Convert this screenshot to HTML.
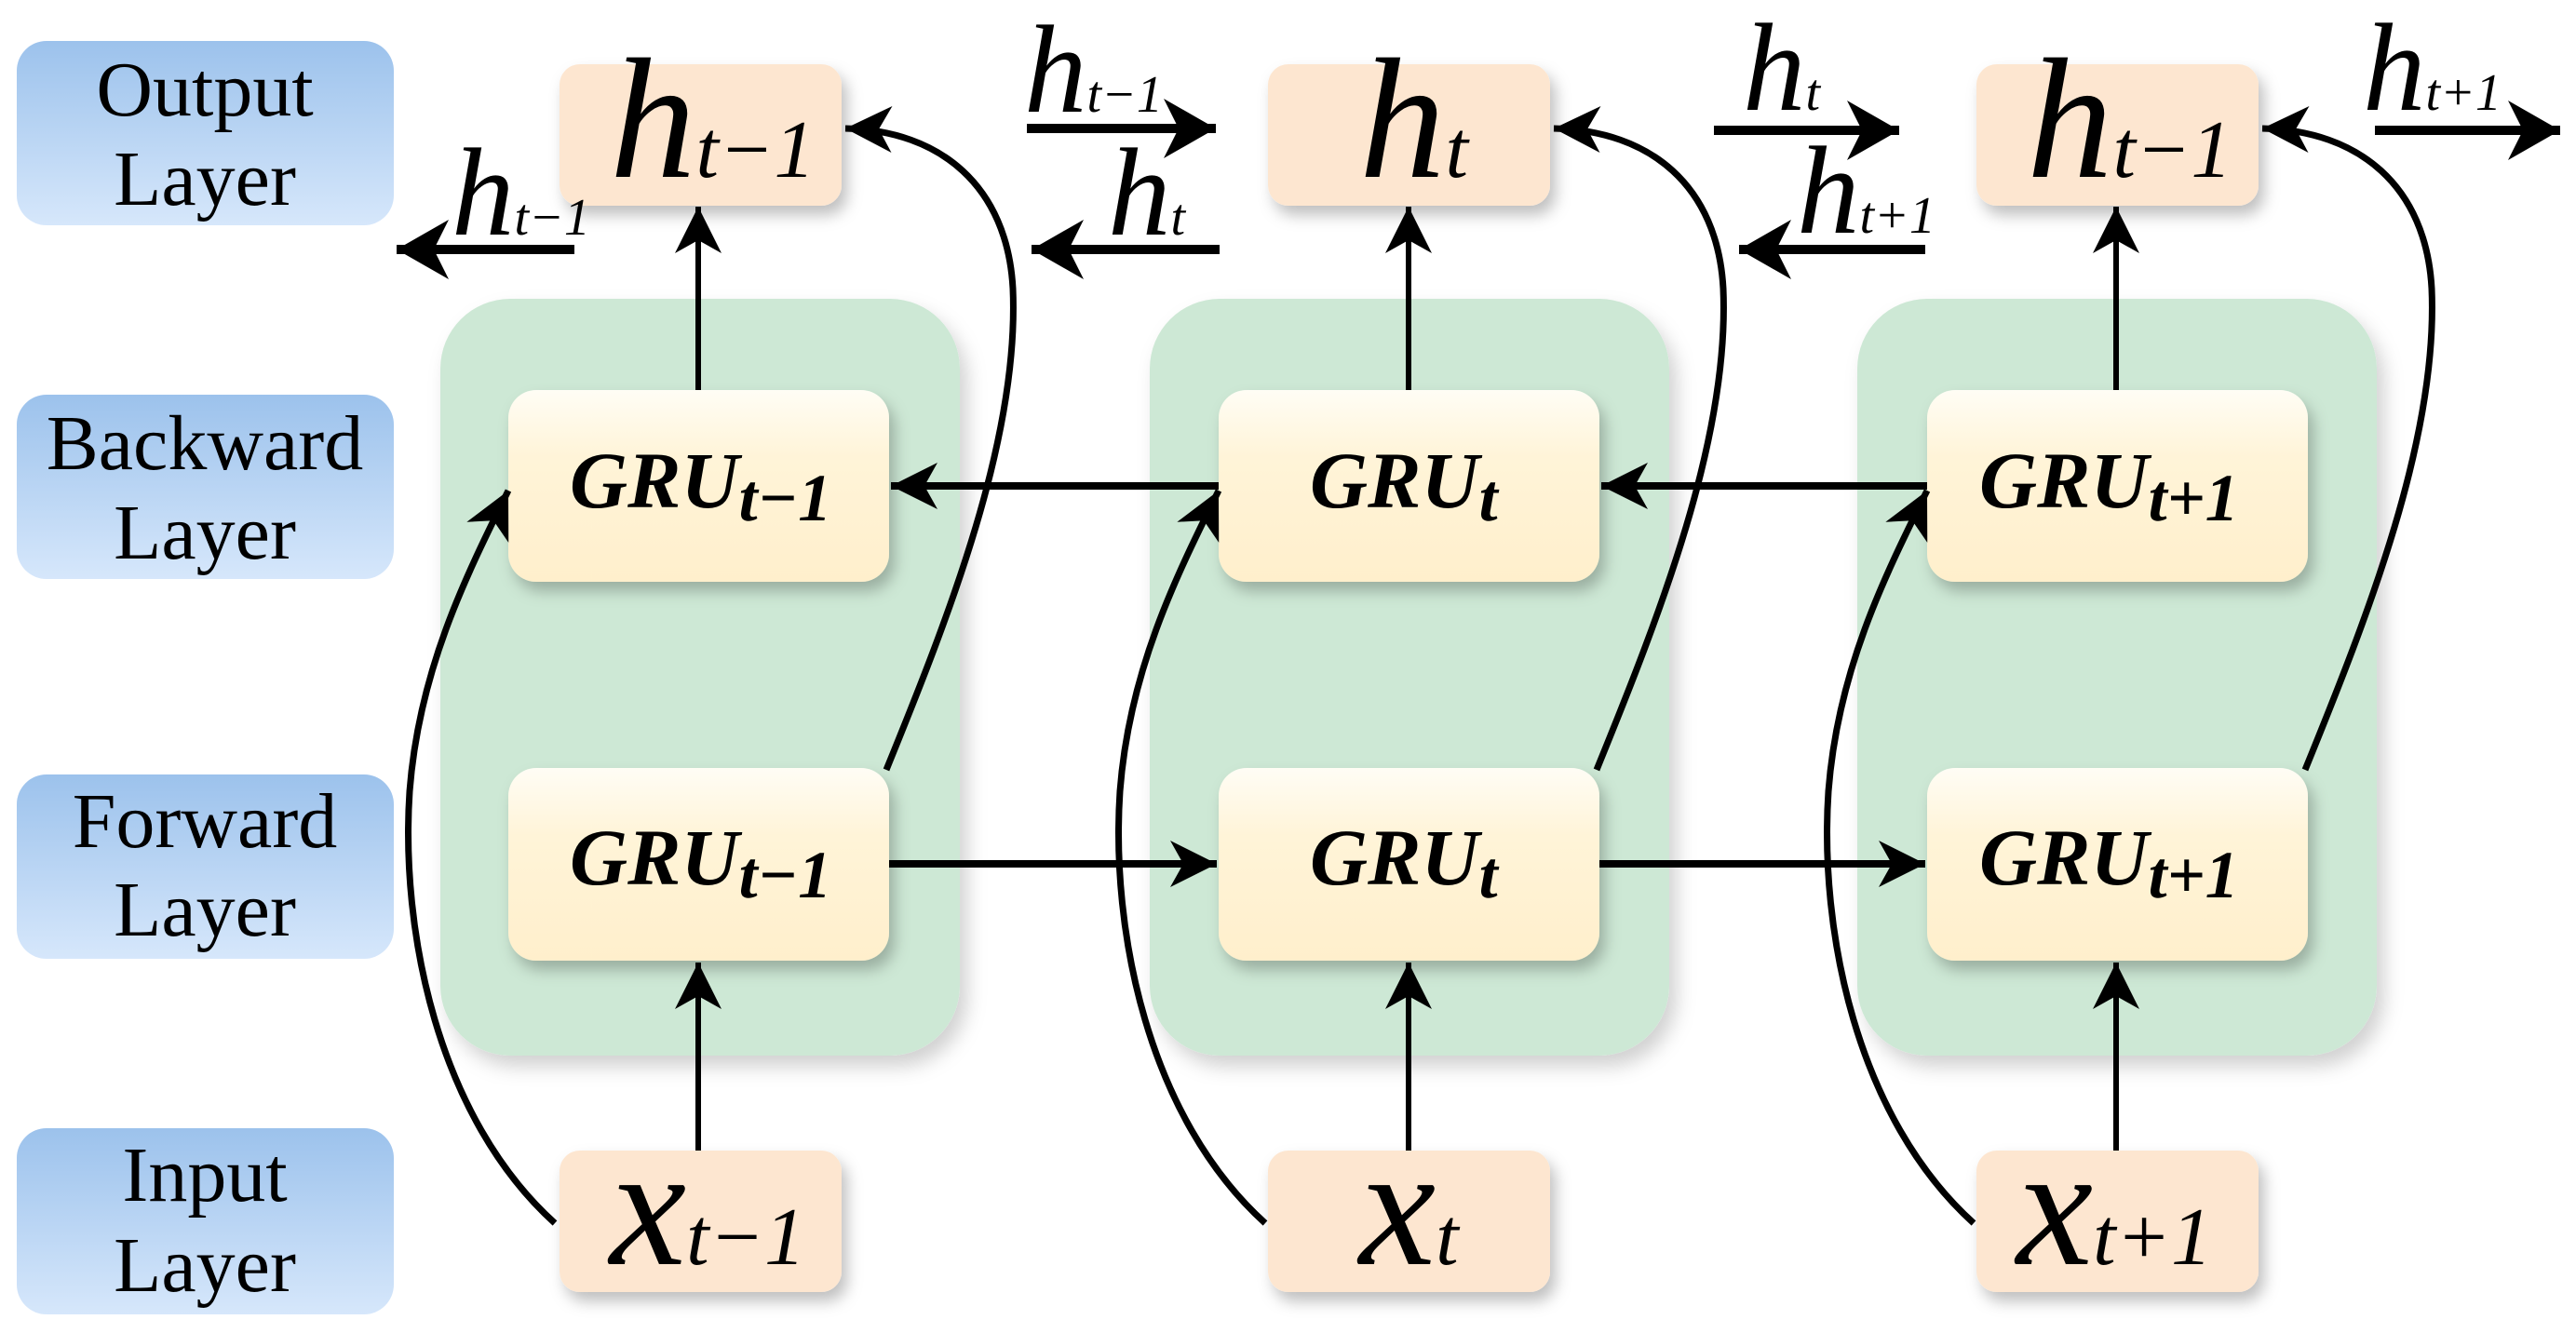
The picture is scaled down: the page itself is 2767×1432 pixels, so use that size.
<!DOCTYPE html>
<html><head><meta charset="utf-8"><style>
html,body{margin:0;padding:0;background:#fff;}
svg{display:block;}
text{font-family:"Liberation Serif",serif;}
</style></head><body>
<svg width="2767" height="1432" viewBox="0 0 2767 1432" xmlns="http://www.w3.org/2000/svg">
<defs>
<linearGradient id="lbl" x1="0" y1="0" x2="0" y2="1"><stop offset="0" stop-color="#9cc2ec"/><stop offset="1" stop-color="#d6e7fb"/></linearGradient>
<linearGradient id="gru" x1="0" y1="0" x2="0" y2="1"><stop offset="0" stop-color="#fffdf5"/><stop offset="0.35" stop-color="#fff4d8"/><stop offset="1" stop-color="#ffefcc"/></linearGradient>
<filter id="sh" x="-20%" y="-20%" width="150%" height="150%"><feDropShadow dx="6" dy="10" stdDeviation="8" flood-color="#000" flood-opacity="0.25"/></filter>
<filter id="sh2" x="-20%" y="-20%" width="150%" height="150%"><feDropShadow dx="8" dy="12" stdDeviation="10" flood-color="#000" flood-opacity="0.18"/></filter>
<marker id="ah" markerUnits="userSpaceOnUse" markerWidth="70" markerHeight="70" refX="50" refY="25" orient="auto"><path d="M50,25 L0,0 L14,25 L0,50 Z" fill="#000"/></marker>
<marker id="ahb" markerUnits="userSpaceOnUse" markerWidth="80" markerHeight="80" refX="56" refY="32" orient="auto"><path d="M56,32 L0,0 L16,32 L0,64 Z" fill="#000"/></marker>
</defs>

<g fill="url(#lbl)">
<rect x="18" y="44" width="405" height="198" rx="32"/>
<rect x="18" y="424" width="405" height="198" rx="32"/>
<rect x="18" y="832" width="405" height="198" rx="32"/>
<rect x="18" y="1212" width="405" height="200" rx="32"/>
</g>
<g font-size="84" text-anchor="middle" fill="#000">
<text x="220" y="124">Output</text><text x="220" y="220">Layer</text>
<text x="220" y="504">Backward</text><text x="220" y="600">Layer</text>
<text x="220" y="910">Forward</text><text x="220" y="1005">Layer</text>
<text x="220" y="1290">Input</text><text x="220" y="1387">Layer</text>
</g>

<g fill="#cde8d5" filter="url(#sh2)">
<rect x="473" y="321" width="558" height="813" rx="75"/>
<rect x="1235" y="321" width="558" height="813" rx="75"/>
<rect x="1995" y="321" width="558" height="813" rx="75"/>
</g>

<g filter="url(#sh)">
<rect x="601" y="69" width="303" height="152" rx="22" fill="#fde6d0"/>
<rect x="1362" y="69" width="303" height="152" rx="22" fill="#fde6d0"/>
<rect x="2123" y="69" width="303" height="152" rx="22" fill="#fde6d0"/>
<rect x="601" y="1236" width="303" height="152" rx="22" fill="#fde6d0"/>
<rect x="1362" y="1236" width="303" height="152" rx="22" fill="#fde6d0"/>
<rect x="2123" y="1236" width="303" height="152" rx="22" fill="#fde6d0"/>
<rect x="546" y="419" width="409" height="206" rx="30" fill="url(#gru)"/>
<rect x="1309" y="419" width="409" height="206" rx="30" fill="url(#gru)"/>
<rect x="2070" y="419" width="409" height="206" rx="30" fill="url(#gru)"/>
<rect x="546" y="825" width="409" height="207" rx="30" fill="url(#gru)"/>
<rect x="1309" y="825" width="409" height="207" rx="30" fill="url(#gru)"/>
<rect x="2070" y="825" width="409" height="207" rx="30" fill="url(#gru)"/>
</g>

<g font-style="italic" fill="#000">
<text x="655" y="190" font-size="185">h<tspan font-size="88">t−1</tspan></text>
<text x="1460" y="190" font-size="185">h<tspan font-size="88">t</tspan></text>
<text x="2177" y="190" font-size="185">h<tspan font-size="88">t−1</tspan></text>
<text x="655" y="1358" font-size="185">x<tspan font-size="88">t−1</tspan></text>
<text x="1460" y="1358" font-size="185">x<tspan font-size="88">t</tspan></text>
<text x="2166" y="1358" font-size="185">x<tspan font-size="88">t+1</tspan></text>
</g>
<g font-style="italic" font-weight="bold" fill="#000" font-size="86">
<text x="612" y="545">GRU<tspan font-size="72" dy="14">t−1</tspan></text>
<text x="1407" y="545">GRU<tspan font-size="72" dy="14">t</tspan></text>
<text x="2126" y="545">GRU<tspan font-size="72" dy="14">t+1</tspan></text>
<text x="612" y="950">GRU<tspan font-size="72" dy="14">t−1</tspan></text>
<text x="1407" y="950">GRU<tspan font-size="72" dy="14">t</tspan></text>
<text x="2126" y="950">GRU<tspan font-size="72" dy="14">t+1</tspan></text>
</g>

<g stroke="#000" fill="none">
<line x1="750" y1="419" x2="750" y2="222" stroke-width="6" marker-end="url(#ah)"/>
<line x1="1513" y1="419" x2="1513" y2="222" stroke-width="6" marker-end="url(#ah)"/>
<line x1="2273" y1="419" x2="2273" y2="222" stroke-width="6" marker-end="url(#ah)"/>
<line x1="750" y1="1236" x2="750" y2="1034" stroke-width="6" marker-end="url(#ah)"/>
<line x1="1513" y1="1236" x2="1513" y2="1034" stroke-width="6" marker-end="url(#ah)"/>
<line x1="2273" y1="1236" x2="2273" y2="1034" stroke-width="6" marker-end="url(#ah)"/>
<line x1="1309" y1="522" x2="957" y2="522" stroke-width="8" marker-end="url(#ah)"/>
<line x1="2070" y1="522" x2="1720" y2="522" stroke-width="8" marker-end="url(#ah)"/>
<line x1="955" y1="928" x2="1307" y2="928" stroke-width="8" marker-end="url(#ah)"/>
<line x1="1718" y1="928" x2="2068" y2="928" stroke-width="8" marker-end="url(#ah)"/>
<path d="M596,1314 C470,1200 430,1000 440,850 C450,720 500,620 546,527" stroke-width="7" marker-end="url(#ah)"/>
<path d="M1359,1314 C1233,1200 1193,1000 1203,850 C1213,720 1263,620 1309,527" stroke-width="7" marker-end="url(#ah)"/>
<path d="M2120,1314 C1994,1200 1954,1000 1964,850 C1974,720 2024,620 2070,527" stroke-width="7" marker-end="url(#ah)"/>
<path d="M952,827 C1020,660 1095,470 1088,310 C1082,200 1010,140 908,138" stroke-width="7" marker-end="url(#ah)"/>
<path d="M1715,827 C1783,660 1858,470 1851,310 C1845,200 1773,140 1669,138" stroke-width="7" marker-end="url(#ah)"/>
<path d="M2476,827 C2544,660 2619,470 2612,310 C2606,200 2534,140 2430,138" stroke-width="7" marker-end="url(#ah)"/>
<line x1="617" y1="268" x2="426" y2="268" stroke-width="10" marker-end="url(#ahb)"/>
<line x1="1103" y1="138" x2="1306" y2="138" stroke-width="10" marker-end="url(#ahb)"/>
<line x1="1310" y1="268" x2="1108" y2="268" stroke-width="10" marker-end="url(#ahb)"/>
<line x1="1841" y1="140" x2="2040" y2="140" stroke-width="10" marker-end="url(#ahb)"/>
<line x1="2068" y1="268" x2="1868" y2="268" stroke-width="10" marker-end="url(#ahb)"/>
<line x1="2551" y1="140" x2="2750" y2="140" stroke-width="10" marker-end="url(#ahb)"/>
</g>

<g font-style="italic" fill="#000" font-size="135">
<text x="485" y="252">h<tspan font-size="56">t−1</tspan></text>
<text x="1100" y="120">h<tspan font-size="56">t−1</tspan></text>
<text x="1190" y="252">h<tspan font-size="56">t</tspan></text>
<text x="1872" y="118">h<tspan font-size="56">t</tspan></text>
<text x="1930" y="250">h<tspan font-size="56">t+1</tspan></text>
<text x="2538" y="118">h<tspan font-size="56">t+1</tspan></text>
</g>
</svg>
</body></html>
